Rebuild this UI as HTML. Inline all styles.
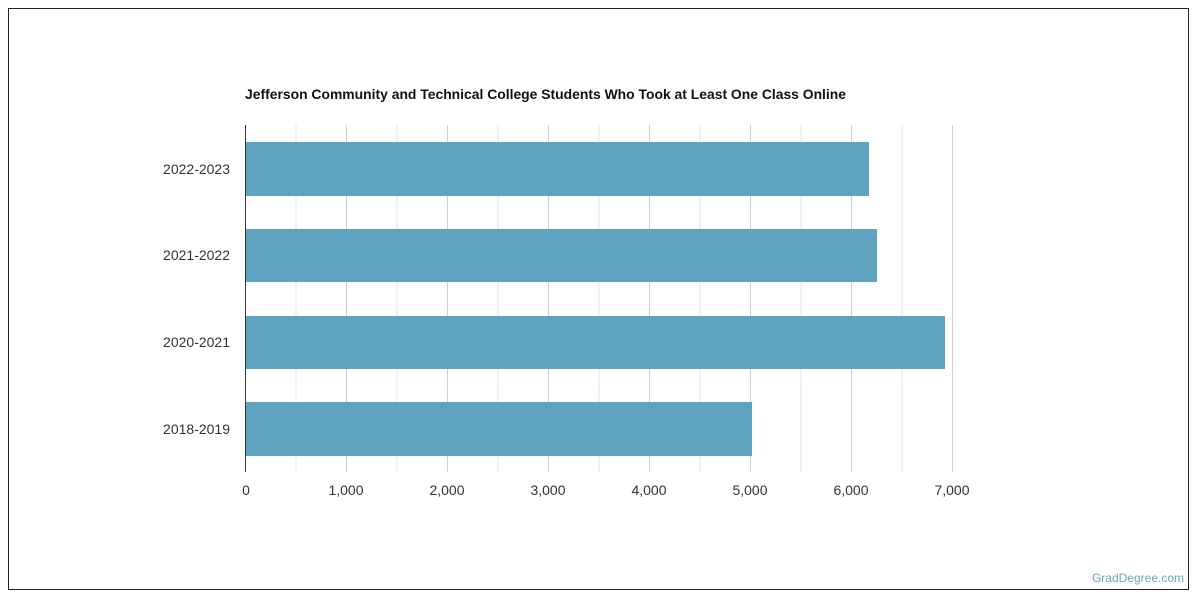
<!DOCTYPE html>
<html><head><style>
html,body{margin:0;padding:0;background:#fff;}
svg{display:block;font-family:"Liberation Sans",Arial,sans-serif;}
</style></head><body>
<svg width="1200" height="600" viewBox="0 0 1200 600" xmlns="http://www.w3.org/2000/svg">
<rect x="8.5" y="8.5" width="1180" height="581" fill="#fff" stroke="#222" stroke-width="1"/>
<text x="245" y="99" font-size="14" font-weight="bold" fill="#111" textLength="601" lengthAdjust="spacingAndGlyphs">Jefferson Community and Technical College Students Who Took at Least One Class Online</text>
<g stroke="#e6e6e6" stroke-width="1">
<line x1="296" y1="125" x2="296" y2="472"/><line x1="397" y1="125" x2="397" y2="472"/>
<line x1="498" y1="125" x2="498" y2="472"/><line x1="599" y1="125" x2="599" y2="472"/>
<line x1="700" y1="125" x2="700" y2="472"/><line x1="801" y1="125" x2="801" y2="472"/>
<line x1="902" y1="125" x2="902" y2="472"/>
</g>
<g stroke="#cfcfcf" stroke-width="1">
<line x1="346.5" y1="125" x2="346.5" y2="472"/><line x1="447.5" y1="125" x2="447.5" y2="472"/>
<line x1="548.5" y1="125" x2="548.5" y2="472"/><line x1="649.5" y1="125" x2="649.5" y2="472"/>
<line x1="750.5" y1="125" x2="750.5" y2="472"/><line x1="851.5" y1="125" x2="851.5" y2="472"/>
<line x1="952.5" y1="125" x2="952.5" y2="472"/>
</g>
<g fill="#5ea3bf">
<rect x="245" y="142" width="624" height="54"/>
<rect x="245" y="229" width="632" height="53"/>
<rect x="245" y="316" width="700" height="53"/>
<rect x="245" y="402" width="507" height="54"/>
</g>
<line x1="245.5" y1="125" x2="245.5" y2="472" stroke="#333" stroke-width="1"/>
<g font-size="14" fill="#333" text-anchor="end">
<text x="230" y="174">2022-2023</text>
<text x="230" y="260">2021-2022</text>
<text x="230" y="347">2020-2021</text>
<text x="230" y="434">2018-2019</text>
</g>
<g font-size="14" fill="#333" text-anchor="middle">
<text x="246" y="495">0</text><text x="346" y="495">1,000</text><text x="447" y="495">2,000</text>
<text x="548" y="495">3,000</text><text x="649" y="495">4,000</text><text x="750" y="495">5,000</text>
<text x="851" y="495">6,000</text><text x="952" y="495">7,000</text>
</g>
<text x="1184" y="582" font-size="12" fill="#6aa6c0" text-anchor="end">GradDegree.com</text>
</svg>
</body></html>
